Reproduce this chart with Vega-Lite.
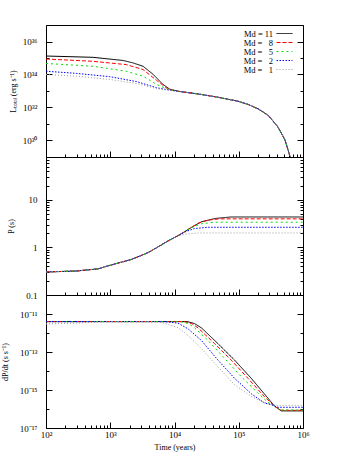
{
  "$schema": "https://vega.github.io/schema/vega-lite/v6.json",
  "padding": {"left": 0, "top": 24, "right": 5, "bottom": 5},
  "spacing": 0,
  "bounds": "flush",
  "config": {
    "view": {"stroke": "#000", "strokeWidth": 1},
    "font": "Liberation Serif",
    "axis": {"labelFont": "Liberation Serif", "labelFontSize": 9, "titleFont": "Liberation Serif", "titleFontSize": 8, "titleFontWeight": "normal", "domain": false, "grid": false, "tickColor": "#000", "labelColor": "#000", "titleColor": "#000", "tickWidth": 1, "minExtent": 0},
    "legend": {"labelFont": "Liberation Serif"}
  },
  "datasets": {
    "L": [
      {"md": "11", "t": 100, "v": 1.32e35}, {"md": "11", "t": 537, "v": 1.10e35}, {"md": "11", "t": 1585, "v": 7.08e34}, {"md": "11", "t": 2239, "v": 5.1e34}, {"md": "11", "t": 3236, "v": 3.16e34}, {"md": "11", "t": 4677, "v": 1.0e34}, {"md": "11", "t": 6607, "v": 2.51e33}, {"md": "11", "t": 8511, "v": 1.26e33}, {"md": "11", "t": 12023, "v": 9.33e32},
      {"md": "11", "t": 23442, "v": 6.61e32}, {"md": "11", "t": 47863, "v": 4.17e32}, {"md": "11", "t": 97724, "v": 2.4e32}, {"md": "11", "t": 141254, "v": 1.51e32}, {"md": "11", "t": 199526, "v": 8.32e31}, {"md": "11", "t": 288403, "v": 3.31e31}, {"md": "11", "t": 407380, "v": 6.61e30}, {"md": "11", "t": 524807, "v": 1.07e30}, {"md": "11", "t": 616595, "v": 1.35e29}, {"md": "11", "t": 660693, "v": 6e28},
      {"md": "8", "t": 100, "v": 8.71e34}, {"md": "8", "t": 537, "v": 6.31e34}, {"md": "8", "t": 1778, "v": 3.98e34}, {"md": "8", "t": 3236, "v": 2.0e34}, {"md": "8", "t": 5248, "v": 4.47e33}, {"md": "8", "t": 7413, "v": 1.58e33}, {"md": "8", "t": 10000, "v": 1.05e33}, {"md": "8", "t": 12023, "v": 9.33e32},
      {"md": "8", "t": 23442, "v": 6.61e32}, {"md": "8", "t": 47863, "v": 4.17e32}, {"md": "8", "t": 97724, "v": 2.4e32}, {"md": "8", "t": 141254, "v": 1.51e32}, {"md": "8", "t": 199526, "v": 8.32e31}, {"md": "8", "t": 288403, "v": 3.31e31}, {"md": "8", "t": 407380, "v": 6.61e30}, {"md": "8", "t": 524807, "v": 1.07e30}, {"md": "8", "t": 616595, "v": 1.35e29}, {"md": "8", "t": 660693, "v": 6e28},
      {"md": "5", "t": 100, "v": 4.68e34}, {"md": "5", "t": 537, "v": 3.16e34}, {"md": "5", "t": 1778, "v": 1.58e34}, {"md": "5", "t": 3236, "v": 7.94e33}, {"md": "5", "t": 5248, "v": 2.51e33}, {"md": "5", "t": 7413, "v": 1.41e33}, {"md": "5", "t": 10000, "v": 1.05e33}, {"md": "5", "t": 12023, "v": 9.33e32},
      {"md": "5", "t": 23442, "v": 6.61e32}, {"md": "5", "t": 47863, "v": 4.17e32}, {"md": "5", "t": 97724, "v": 2.4e32}, {"md": "5", "t": 141254, "v": 1.51e32}, {"md": "5", "t": 199526, "v": 8.32e31}, {"md": "5", "t": 288403, "v": 3.31e31}, {"md": "5", "t": 407380, "v": 6.61e30}, {"md": "5", "t": 524807, "v": 1.07e30}, {"md": "5", "t": 616595, "v": 1.35e29}, {"md": "5", "t": 660693, "v": 6e28},
      {"md": "2", "t": 100, "v": 1.58e34}, {"md": "2", "t": 295, "v": 1.17e34}, {"md": "2", "t": 977, "v": 7.41e33}, {"md": "2", "t": 2570, "v": 3.72e33}, {"md": "2", "t": 5248, "v": 1.58e33}, {"md": "2", "t": 8511, "v": 1.12e33}, {"md": "2", "t": 12023, "v": 9.33e32},
      {"md": "2", "t": 23442, "v": 6.61e32}, {"md": "2", "t": 47863, "v": 4.17e32}, {"md": "2", "t": 97724, "v": 2.4e32}, {"md": "2", "t": 141254, "v": 1.51e32}, {"md": "2", "t": 199526, "v": 8.32e31}, {"md": "2", "t": 288403, "v": 3.31e31}, {"md": "2", "t": 407380, "v": 6.61e30}, {"md": "2", "t": 524807, "v": 1.07e30}, {"md": "2", "t": 616595, "v": 1.35e29}, {"md": "2", "t": 660693, "v": 6e28},
      {"md": "1", "t": 100, "v": 1.0e34}, {"md": "1", "t": 295, "v": 7.94e33}, {"md": "1", "t": 977, "v": 5.01e33}, {"md": "1", "t": 2570, "v": 2.82e33}, {"md": "1", "t": 5248, "v": 1.41e33}, {"md": "1", "t": 8511, "v": 1.07e33}, {"md": "1", "t": 12023, "v": 9.33e32},
      {"md": "1", "t": 23442, "v": 6.61e32}, {"md": "1", "t": 47863, "v": 4.17e32}, {"md": "1", "t": 97724, "v": 2.4e32}, {"md": "1", "t": 141254, "v": 1.51e32}, {"md": "1", "t": 199526, "v": 8.32e31}, {"md": "1", "t": 288403, "v": 3.31e31}, {"md": "1", "t": 407380, "v": 6.61e30}, {"md": "1", "t": 524807, "v": 1.07e30}, {"md": "1", "t": 616595, "v": 1.35e29}, {"md": "1", "t": 660693, "v": 6e28}
    ],
    "P": [
      {"md": "11", "t": 100, "v": 0.305}, {"md": "11", "t": 300, "v": 0.32}, {"md": "11", "t": 650, "v": 0.355}, {"md": "11", "t": 920, "v": 0.41}, {"md": "11", "t": 2140, "v": 0.56}, {"md": "11", "t": 3890, "v": 0.78}, {"md": "11", "t": 7940, "v": 1.37}, {"md": "11", "t": 10000, "v": 1.62},
      {"md": "11", "t": 12880, "v": 1.95}, {"md": "11", "t": 18197, "v": 2.63}, {"md": "11", "t": 26303, "v": 3.47}, {"md": "11", "t": 42658, "v": 4.07}, {"md": "11", "t": 75858, "v": 4.38}, {"md": "11", "t": 1000000, "v": 4.38},
      {"md": "8", "t": 100, "v": 0.305}, {"md": "8", "t": 300, "v": 0.32}, {"md": "8", "t": 650, "v": 0.355}, {"md": "8", "t": 920, "v": 0.41}, {"md": "8", "t": 2140, "v": 0.56}, {"md": "8", "t": 3890, "v": 0.78}, {"md": "8", "t": 7940, "v": 1.37}, {"md": "8", "t": 10000, "v": 1.62},
      {"md": "8", "t": 12880, "v": 1.95}, {"md": "8", "t": 18197, "v": 2.63}, {"md": "8", "t": 23442, "v": 3.25}, {"md": "8", "t": 33113, "v": 3.75}, {"md": "8", "t": 50119, "v": 4.0}, {"md": "8", "t": 1000000, "v": 4.0},
      {"md": "5", "t": 100, "v": 0.305}, {"md": "5", "t": 300, "v": 0.32}, {"md": "5", "t": 650, "v": 0.355}, {"md": "5", "t": 920, "v": 0.41}, {"md": "5", "t": 2140, "v": 0.56}, {"md": "5", "t": 3890, "v": 0.78}, {"md": "5", "t": 7940, "v": 1.37}, {"md": "5", "t": 10000, "v": 1.62},
      {"md": "5", "t": 12880, "v": 1.95}, {"md": "5", "t": 18197, "v": 2.6}, {"md": "5", "t": 26303, "v": 3.16}, {"md": "5", "t": 42658, "v": 3.4}, {"md": "5", "t": 1000000, "v": 3.4},
      {"md": "2", "t": 100, "v": 0.305}, {"md": "2", "t": 300, "v": 0.32}, {"md": "2", "t": 650, "v": 0.355}, {"md": "2", "t": 920, "v": 0.41}, {"md": "2", "t": 2140, "v": 0.56}, {"md": "2", "t": 3890, "v": 0.78}, {"md": "2", "t": 7940, "v": 1.37}, {"md": "2", "t": 10000, "v": 1.62},
      {"md": "2", "t": 12880, "v": 1.95}, {"md": "2", "t": 14454, "v": 2.12}, {"md": "2", "t": 20417, "v": 2.5}, {"md": "2", "t": 33113, "v": 2.66}, {"md": "2", "t": 1000000, "v": 2.66},
      {"md": "1", "t": 100, "v": 0.305}, {"md": "1", "t": 300, "v": 0.32}, {"md": "1", "t": 650, "v": 0.355}, {"md": "1", "t": 920, "v": 0.41}, {"md": "1", "t": 2140, "v": 0.56}, {"md": "1", "t": 3890, "v": 0.78}, {"md": "1", "t": 7940, "v": 1.37}, {"md": "1", "t": 10000, "v": 1.62},
      {"md": "1", "t": 11220, "v": 1.76}, {"md": "1", "t": 14454, "v": 1.9}, {"md": "1", "t": 23442, "v": 2.02}, {"md": "1", "t": 1000000, "v": 2.02}
    ],
    "D": [
      {"md": "11", "t": 100, "v": 3.98e-12}, {"md": "11", "t": 15849, "v": 3.98e-12}, {"md": "11", "t": 20417, "v": 3.16e-12}, {"md": "11", "t": 26303, "v": 1.86e-12}, {"md": "11", "t": 47534, "v": 2.75e-13}, {"md": "11", "t": 86298, "v": 3.72e-14}, {"md": "11", "t": 157036, "v": 4.07e-15}, {"md": "11", "t": 285102, "v": 3.72e-16}, {"md": "11", "t": 363078, "v": 1.38e-16}, {"md": "11", "t": 459198, "v": 7.94e-17}, {"md": "11", "t": 1000000, "v": 7.94e-17},
      {"md": "8", "t": 100, "v": 3.98e-12}, {"md": "8", "t": 14125, "v": 3.98e-12}, {"md": "8", "t": 18621, "v": 3.1e-12}, {"md": "8", "t": 23227, "v": 1.86e-12}, {"md": "8", "t": 42170, "v": 2.75e-13}, {"md": "8", "t": 76560, "v": 3.72e-14}, {"md": "8", "t": 139316, "v": 4.07e-15}, {"md": "8", "t": 253513, "v": 4.27e-16}, {"md": "8", "t": 363078, "v": 1.38e-16}, {"md": "8", "t": 459198, "v": 8.51e-17}, {"md": "8", "t": 1000000, "v": 8.51e-17},
      {"md": "5", "t": 100, "v": 3.98e-12}, {"md": "5", "t": 12589, "v": 3.98e-12}, {"md": "5", "t": 16596, "v": 3.1e-12}, {"md": "5", "t": 20606, "v": 1.86e-12}, {"md": "5", "t": 33189, "v": 4.07e-13}, {"md": "5", "t": 60395, "v": 4.57e-14}, {"md": "5", "t": 109648, "v": 5.01e-15}, {"md": "5", "t": 199526, "v": 6.76e-16}, {"md": "5", "t": 285102, "v": 2.24e-16}, {"md": "5", "t": 363078, "v": 1.38e-16}, {"md": "5", "t": 459198, "v": 8.91e-17}, {"md": "5", "t": 1000000, "v": 8.91e-17},
      {"md": "2", "t": 100, "v": 3.98e-12}, {"md": "2", "t": 7079, "v": 3.98e-12}, {"md": "2", "t": 11324, "v": 3.31e-12}, {"md": "2", "t": 16218, "v": 1.66e-12}, {"md": "2", "t": 26182, "v": 4.07e-13}, {"md": "2", "t": 47534, "v": 3.72e-14}, {"md": "2", "t": 86298, "v": 4.07e-15}, {"md": "2", "t": 157036, "v": 6.31e-16}, {"md": "2", "t": 253513, "v": 2.04e-16}, {"md": "2", "t": 321366, "v": 1.7e-16}, {"md": "2", "t": 408319, "v": 1.23e-16}, {"md": "2", "t": 1000000, "v": 1.23e-16},
      {"md": "1", "t": 100, "v": 3.0e-12}, {"md": "1", "t": 300, "v": 3.3e-12}, {"md": "1", "t": 692, "v": 3.98e-12}, {"md": "1", "t": 5623, "v": 3.98e-12}, {"md": "1", "t": 7925, "v": 2.82e-12}, {"md": "1", "t": 11324, "v": 1.95e-12}, {"md": "1", "t": 16218, "v": 7.41e-13}, {"md": "1", "t": 26182, "v": 1.51e-13}, {"md": "1", "t": 47534, "v": 1.66e-14}, {"md": "1", "t": 86298, "v": 1.86e-15}, {"md": "1", "t": 157036, "v": 4.57e-16}, {"md": "1", "t": 224905, "v": 2.51e-16}, {"md": "1", "t": 321366, "v": 1.7e-16}, {"md": "1", "t": 408319, "v": 1.55e-16}, {"md": "1", "t": 1000000, "v": 1.55e-16}
    ]
  },
  "resolve": {"legend": {"color": "independent", "strokeDash": "independent"}},
  "vconcat": [
    {
      "width": 257, "height": 132,
      "data": {"name": "L"},
      "layer": [
        {
          "mark": {"type": "line", "clip": true, "strokeWidth": 1},
          "encoding": {
            "x": {"field": "t", "type": "quantitative", "scale": {"type": "log", "domain": [100, 1000000], "nice": false},
              "axis": {"orient": "bottom", "labels": false, "title": null, "values": [100,1000,10000,100000,1000000], "tickSize": -6}},
            "y": {"field": "v", "type": "quantitative", "scale": {"type": "log", "domain": [1e29, 1e37], "nice": false},
              "axis": {"orient": "left", "title": "Lₜₒₜₐₗ (erg s⁻¹)", "values": [1e30,1e32,1e34,1e36], "tickSize": -6,
                "labelExpr": "datum.value==1e36?'10³⁶':datum.value==1e34?'10³⁴':datum.value==1e32?'10³²':'10³⁰'",
                "labelPadding": 15, "titlePadding": 5}},
            "color": {"field": "md", "type": "nominal", "sort": ["11","8","5","2","1"],
              "scale": {"domain": ["11","8","5","2","1"], "range": ["#000000","#ff0000","#00dd00","#0000ff","#999999"]},
              "legend": {"title": null, "orient": "none", "legendX": 234, "legendY": 4, "padding": 0, "symbolType": "M-2,0H2", "symbolSize": 64, "symbolStrokeWidth": 1, "labelAlign": "right", "labelOffset": -16, "labelFontSize": 8.5, "rowPadding": -0.7,
                "labelExpr": "datum.label=='11' ? 'Md = 11' : 'Md = \u2007' + datum.label"}},
            "strokeDash": {"field": "md", "type": "nominal", "sort": ["11","8","5","2","1"],
              "scale": {"domain": ["11","8","5","2","1"], "range": [[1,0],[4,2],[2,3],[1.5,1.5],[1,2]]},
              "legend": {"title": null, "orient": "none", "legendX": 234, "legendY": 4, "padding": 0, "symbolType": "M-2,0H2", "symbolSize": 64, "symbolStrokeWidth": 1, "labelAlign": "right", "labelOffset": -16, "labelFontSize": 8.5, "rowPadding": -0.7,
                "labelExpr": "datum.label=='11' ? 'Md = 11' : 'Md = \u2007' + datum.label"}}
          }
        },
        {
          "mark": {"type": "point", "opacity": 0},
          "encoding": {
            "x": {"field": "t", "type": "quantitative", "scale": {"type": "log", "domain": [100, 1000000], "nice": false},
              "axis": {"orient": "bottom", "labels": false, "title": null, "values": [200,300,400,500,600,700,800,900,2000,3000,4000,5000,6000,7000,8000,9000,20000,30000,40000,50000,60000,70000,80000,90000,200000,300000,400000,500000,600000,700000,800000,900000], "tickSize": -3}},
            "y": {"field": "v", "type": "quantitative", "scale": {"type": "log", "domain": [1e29, 1e37], "nice": false},
              "axis": {"orient": "left", "labels": false, "title": null, "values": [1e29,1e31,1e33,1e35,1e37], "tickSize": -3}}
          }
        },
        {
          "mark": {"type": "point", "opacity": 0},
          "encoding": {
            "x": {"field": "t", "type": "quantitative", "scale": {"type": "log", "domain": [100, 1000000], "nice": false}, "axis": null},
            "y": {"field": "v", "type": "quantitative", "scale": {"type": "log", "domain": [1e29, 1e37], "nice": false},
              "axis": {"orient": "right", "labels": false, "title": null, "values": [1e30,1e32,1e34,1e36], "tickSize": -6}}
          }
        },
        {
          "mark": {"type": "point", "opacity": 0},
          "encoding": {
            "x": {"field": "t", "type": "quantitative", "scale": {"type": "log", "domain": [100, 1000000], "nice": false}, "axis": null},
            "y": {"field": "v", "type": "quantitative", "scale": {"type": "log", "domain": [1e29, 1e37], "nice": false},
              "axis": {"orient": "right", "labels": false, "title": null, "values": [1e29,1e31,1e33,1e35,1e37], "tickSize": -3}}
          }
        }
      ],
      "resolve": {"axis": {"x": "independent", "y": "independent"}}
    },
    {
      "width": 257, "height": 138,
      "data": {"name": "P"},
      "layer": [
        {
          "mark": {"type": "line", "clip": true, "strokeWidth": 1},
          "encoding": {
            "x": {"field": "t", "type": "quantitative", "scale": {"type": "log", "domain": [100, 1000000], "nice": false},
              "axis": {"orient": "bottom", "labels": false, "title": null, "values": [100,1000,10000,100000,1000000], "tickSize": -6}},
            "y": {"field": "v", "type": "quantitative", "scale": {"type": "log", "domain": [0.1, 80], "nice": false},
              "axis": {"orient": "left", "title": "P (s)", "values": [0.1,1,10], "tickSize": -6,
                "labelExpr": "datum.value==10?'10':datum.value==1?'1':'0.1'",
                "labelPadding": 15, "titlePadding": 10}},
            "color": {"field": "md", "type": "nominal", "sort": ["11","8","5","2","1"], "scale": {"domain": ["11","8","5","2","1"], "range": ["#000000","#ff0000","#00dd00","#0000ff","#999999"]}, "legend": null},
            "strokeDash": {"field": "md", "type": "nominal", "sort": ["11","8","5","2","1"], "scale": {"domain": ["11","8","5","2","1"], "range": [[1,0],[4,2],[2,3],[1.5,1.5],[1,2]]}, "legend": null}
          }
        },
        {
          "mark": {"type": "point", "opacity": 0},
          "encoding": {
            "x": {"field": "t", "type": "quantitative", "scale": {"type": "log", "domain": [100, 1000000], "nice": false},
              "axis": {"orient": "bottom", "labels": false, "title": null, "values": [200,300,400,500,600,700,800,900,2000,3000,4000,5000,6000,7000,8000,9000,20000,30000,40000,50000,60000,70000,80000,90000,200000,300000,400000,500000,600000,700000,800000,900000], "tickSize": -3}},
            "y": {"field": "v", "type": "quantitative", "scale": {"type": "log", "domain": [0.1, 80], "nice": false},
              "axis": {"orient": "left", "labels": false, "title": null, "values": [0.2,0.3,0.4,0.5,0.6,0.7,0.8,0.9,2,3,4,5,6,7,8,9,20,30,40,50,60,70,80], "tickSize": -3}}
          }
        },
        {
          "mark": {"type": "point", "opacity": 0},
          "encoding": {
            "x": {"field": "t", "type": "quantitative", "scale": {"type": "log", "domain": [100, 1000000], "nice": false}, "axis": null},
            "y": {"field": "v", "type": "quantitative", "scale": {"type": "log", "domain": [0.1, 80], "nice": false},
              "axis": {"orient": "right", "labels": false, "title": null, "values": [0.1,1,10], "tickSize": -6}}
          }
        },
        {
          "mark": {"type": "point", "opacity": 0},
          "encoding": {
            "x": {"field": "t", "type": "quantitative", "scale": {"type": "log", "domain": [100, 1000000], "nice": false}, "axis": null},
            "y": {"field": "v", "type": "quantitative", "scale": {"type": "log", "domain": [0.1, 80], "nice": false},
              "axis": {"orient": "right", "labels": false, "title": null, "values": [0.2,0.3,0.4,0.5,0.6,0.7,0.8,0.9,2,3,4,5,6,7,8,9,20,30,40,50,60,70,80], "tickSize": -3}}
          }
        }
      ],
      "resolve": {"axis": {"x": "independent", "y": "independent"}}
    },
    {
      "width": 257, "height": 133,
      "data": {"name": "D"},
      "layer": [
        {
          "mark": {"type": "line", "clip": true, "strokeWidth": 1},
          "encoding": {
            "x": {"field": "t", "type": "quantitative", "scale": {"type": "log", "domain": [100, 1000000], "nice": false},
              "axis": {"orient": "bottom", "title": "Time (years)", "titlePadding": 4, "values": [100,1000,10000,100000,1000000], "tickSize": -6,
                "labelExpr": "datum.value==100?'10²':datum.value==1000?'10³':datum.value==10000?'10⁴':datum.value==100000?'10⁵':'10⁶'",
                "labelPadding": 8, "labelFlush": false}},
            "y": {"field": "v", "type": "quantitative", "scale": {"type": "log", "domain": [1e-17, 1e-10], "nice": false},
              "axis": {"orient": "left", "title": "dP/dt (s s⁻¹)", "values": [1e-17,1e-15,1e-13,1e-11], "tickSize": -6,
                "labelExpr": "datum.value==1e-11?'10⁻¹¹':datum.value==1e-13?'10⁻¹³':datum.value==1e-15?'10⁻¹⁵':'10⁻¹⁷'",
                "labelPadding": 15, "titlePadding": 10}},
            "color": {"field": "md", "type": "nominal", "sort": ["11","8","5","2","1"], "scale": {"domain": ["11","8","5","2","1"], "range": ["#000000","#ff0000","#00dd00","#0000ff","#999999"]}, "legend": null},
            "strokeDash": {"field": "md", "type": "nominal", "sort": ["11","8","5","2","1"], "scale": {"domain": ["11","8","5","2","1"], "range": [[1,0],[4,2],[2,3],[1.5,1.5],[1,2]]}, "legend": null}
          }
        },
        {
          "mark": {"type": "point", "opacity": 0},
          "encoding": {
            "x": {"field": "t", "type": "quantitative", "scale": {"type": "log", "domain": [100, 1000000], "nice": false},
              "axis": {"orient": "bottom", "labels": false, "title": null, "values": [200,300,400,500,600,700,800,900,2000,3000,4000,5000,6000,7000,8000,9000,20000,30000,40000,50000,60000,70000,80000,90000,200000,300000,400000,500000,600000,700000,800000,900000], "tickSize": -3}},
            "y": {"field": "v", "type": "quantitative", "scale": {"type": "log", "domain": [1e-17, 1e-10], "nice": false},
              "axis": {"orient": "left", "labels": false, "title": null, "values": [1e-16,1e-14,1e-12,1e-10], "tickSize": -3}}
          }
        },
        {
          "mark": {"type": "point", "opacity": 0},
          "encoding": {
            "x": {"field": "t", "type": "quantitative", "scale": {"type": "log", "domain": [100, 1000000], "nice": false}, "axis": null},
            "y": {"field": "v", "type": "quantitative", "scale": {"type": "log", "domain": [1e-17, 1e-10], "nice": false},
              "axis": {"orient": "right", "labels": false, "title": null, "values": [1e-17,1e-15,1e-13,1e-11], "tickSize": -6}}
          }
        },
        {
          "mark": {"type": "point", "opacity": 0},
          "encoding": {
            "x": {"field": "t", "type": "quantitative", "scale": {"type": "log", "domain": [100, 1000000], "nice": false}, "axis": null},
            "y": {"field": "v", "type": "quantitative", "scale": {"type": "log", "domain": [1e-17, 1e-10], "nice": false},
              "axis": {"orient": "right", "labels": false, "title": null, "values": [1e-16,1e-14,1e-12,1e-10], "tickSize": -3}}
          }
        }
      ],
      "resolve": {"axis": {"x": "independent", "y": "independent"}}
    }
  ]
}
